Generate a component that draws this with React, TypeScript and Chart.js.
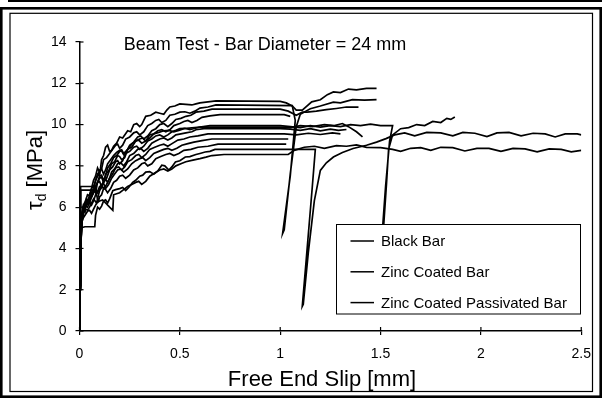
import React, { useEffect, useRef } from 'react';
import { Chart, registerables } from 'chart.js';

Chart.register(...registerables);

type Pt = [number, number];

const chartTitle = 'Beam Test - Bar Diameter = 24 mm';
const xAxisTitle = 'Free End Slip [mm]';
const yAxisSymbol = 'τ';
const yAxisSub = 'd';
const yAxisUnit = ' [MPa]';
const seriesLabels = ['Black Bar', 'Zinc Coated Bar', 'Zinc Coated Passivated Bar'];
const xTicks = [0, 0.5, 1, 1.5, 2, 2.5];
const yTicks = [0, 2, 4, 6, 8, 10, 12, 14];

// Black Bar specimens
const blackBar1: Pt[] = [
  [0, 0], [0.003, 2.1], [0.006, 4.2], [0.012, 5.6], [0.02, 6.1], [0.03, 6.0], [0.04, 6.3], [0.05, 6.5],
  [0.06, 6.9], [0.075, 7.1], [0.09, 7.6], [0.1, 7.5], [0.11, 8.3], [0.12, 8.5], [0.13, 8.9], [0.14, 9.0],
  [0.15, 8.7], [0.16, 8.75], [0.17, 8.95], [0.185, 9.1], [0.2, 9.4], [0.215, 9.35], [0.24, 9.7],
  [0.255, 9.65], [0.27, 10.0], [0.285, 10.05], [0.3, 9.9], [0.31, 10.0], [0.33, 10.4], [0.355, 10.45],
  [0.38, 10.6], [0.4, 10.55], [0.42, 10.5], [0.435, 10.7], [0.45, 10.85], [0.475, 10.9], [0.5, 11.0],
  [0.53, 10.98], [0.56, 10.95], [0.58, 11.0], [0.6, 11.05], [0.64, 11.1], [0.68, 11.15], [1.0, 11.12],
  [1.03, 11.05], [1.06, 10.9], [1.08, 10.7], [1.11, 10.7], [1.157, 11.1], [1.2, 11.2], [1.235, 11.45],
  [1.265, 11.58], [1.3, 11.55], [1.34, 11.72], [1.38, 11.68], [1.43, 11.75], [1.48, 11.75],
];
const blackBar2: Pt[] = [
  [0, 0], [0.002, 1.5], [0.005, 3.5], [0.01, 5.1], [0.02, 5.9], [0.028, 5.8], [0.035, 6.4], [0.05, 6.3],
  [0.06, 6.5], [0.07, 6.8], [0.08, 6.7], [0.09, 7.2], [0.1, 7.25], [0.11, 7.0], [0.12, 7.2], [0.13, 7.6],
  [0.145, 7.75], [0.16, 8.1], [0.175, 8.2], [0.19, 8.5], [0.2, 8.45], [0.21, 8.3], [0.225, 8.4],
  [0.24, 8.8], [0.26, 8.9], [0.28, 9.2], [0.295, 9.25], [0.31, 9.1], [0.33, 9.2], [0.35, 9.5],
  [0.37, 9.55], [0.39, 9.7], [0.41, 9.75], [0.43, 9.65], [0.45, 9.75], [0.47, 9.95], [0.5, 10.05],
  [0.52, 10.15], [0.54, 10.2], [0.56, 10.1], [0.585, 10.2], [0.61, 10.35], [0.65, 10.42], [0.7, 10.48],
  [1.02, 10.48], [1.05, 10.4],
];
const blackBar3: Pt[] = [
  [0, 0], [0.003, 2.2], [0.006, 4.4], [0.01, 5.2], [0.015, 5.6], [0.03, 5.9], [0.04, 5.85], [0.05, 6.0],
  [0.06, 6.2], [0.07, 6.4], [0.085, 6.2], [0.09, 6.4], [0.1, 6.8], [0.11, 6.95], [0.12, 7.3], [0.13, 7.35],
  [0.14, 7.2], [0.15, 7.4], [0.16, 7.7], [0.175, 7.85], [0.19, 8.1], [0.205, 8.15], [0.22, 8.0],
  [0.235, 8.2], [0.25, 8.5], [0.27, 8.6], [0.29, 8.8], [0.305, 8.85], [0.32, 8.7], [0.34, 8.85],
  [0.36, 9.1], [0.38, 9.2], [0.4, 9.3], [0.42, 9.35], [0.44, 9.25], [0.46, 9.35], [0.48, 9.5],
  [0.505, 9.55], [0.53, 9.6], [0.56, 9.65], [0.58, 9.75], [0.62, 9.8], [1.0, 9.8], [1.05, 9.78],
  [1.1, 9.72], [1.15, 9.8], [1.2, 9.7], [1.25, 9.78], [1.29, 9.72], [1.33, 9.76],
];
const blackBar4: Pt[] = [
  [0, 0], [0.002, 2.0], [0.004, 4.6], [0.006, 6.82], [0.08, 6.82], [0.09, 6.4], [0.095, 6.3], [0.1, 6.5],
  [0.11, 6.6], [0.12, 6.9], [0.13, 6.85], [0.14, 6.7], [0.155, 6.9], [0.17, 7.2], [0.185, 7.3],
  [0.2, 7.5], [0.215, 7.55], [0.23, 7.4], [0.25, 7.55], [0.27, 7.8], [0.29, 7.9], [0.31, 8.1],
  [0.325, 8.15], [0.34, 8.0], [0.36, 8.1], [0.38, 8.35], [0.405, 8.45], [0.43, 8.55], [0.45, 8.6],
  [0.47, 8.5], [0.495, 8.6], [0.52, 8.75], [0.555, 8.8], [0.59, 8.9], [0.64, 8.95], [0.69, 9.05],
  [1.03, 9.05],
];

// Zinc Coated Bar specimens
const zincBar1: Pt[] = [
  [0, 0], [0.002, 1.8], [0.005, 3.9], [0.01, 5.4], [0.018, 6.0], [0.03, 6.2], [0.04, 6.15], [0.05, 6.6],
  [0.06, 6.9], [0.07, 7.3], [0.08, 7.5], [0.09, 7.9], [0.1, 7.7], [0.11, 7.85], [0.12, 8.3], [0.135, 8.4],
  [0.15, 8.6], [0.165, 8.8], [0.18, 9.0], [0.19, 9.05], [0.2, 8.85], [0.215, 9.0], [0.23, 9.3],
  [0.25, 9.4], [0.27, 9.6], [0.285, 9.65], [0.3, 9.5], [0.32, 9.65], [0.34, 9.95], [0.36, 10.05],
  [0.38, 10.2], [0.395, 10.25], [0.41, 10.1], [0.43, 10.2], [0.45, 10.45], [0.475, 10.5], [0.5, 10.6],
  [0.525, 10.62], [0.55, 10.55], [0.575, 10.65], [0.6, 10.8], [0.64, 10.85], [0.68, 10.95],
  [1.06, 10.92], [1.075, 10.2], [1.05, 7.5], [1.012, 4.72], [1.02, 4.9], [1.05, 7.6], [1.08, 9.9],
  [1.1, 10.5], [1.15, 10.77], [1.2, 10.9], [1.265, 11.09], [1.3, 11.05], [1.36, 11.21], [1.42, 11.18],
  [1.48, 11.21],
];
const zincBar2: Pt[] = [
  [0, 0], [0.003, 2.0], [0.007, 4.3], [0.012, 5.5], [0.02, 6.1], [0.03, 6.3], [0.04, 6.6], [0.05, 6.55],
  [0.06, 6.5], [0.07, 6.7], [0.08, 7.0], [0.09, 7.2], [0.1, 7.4], [0.11, 7.45], [0.12, 7.2], [0.135, 7.4],
  [0.15, 7.8], [0.165, 7.95], [0.18, 8.2], [0.19, 8.25], [0.2, 8.1], [0.215, 8.25], [0.23, 8.6],
  [0.25, 8.7], [0.27, 8.9], [0.285, 8.95], [0.3, 8.8], [0.32, 8.95], [0.34, 9.2], [0.36, 9.3],
  [0.38, 9.45], [0.4, 9.5], [0.42, 9.4], [0.44, 9.5], [0.46, 9.65], [0.48, 9.72], [0.5, 9.8],
  [0.525, 9.82], [0.55, 9.75], [0.6, 9.88], [0.65, 9.95], [1.0, 9.95], [1.05, 9.9], [1.1, 9.85],
  [1.15, 9.95], [1.2, 9.88], [1.25, 9.95], [1.3, 9.9], [1.35, 10.0], [1.4, 9.95], [1.45, 10.02],
  [1.5, 9.95], [1.56, 9.95], [1.545, 9.2], [1.525, 7.0], [1.505, 4.3], [1.51, 4.3], [1.53, 7.2],
  [1.54, 8.8], [1.56, 9.5], [1.6, 9.8], [1.64, 9.85], [1.68, 10.0], [1.72, 9.95], [1.76, 10.15],
  [1.8, 10.1], [1.83, 10.3], [1.85, 10.25], [1.87, 10.37],
];
const zincBar3: Pt[] = [
  [0, 0], [0.002, 1.4], [0.005, 3.2], [0.009, 4.8], [0.015, 5.5], [0.025, 5.9], [0.04, 6.2], [0.05, 6.25],
  [0.06, 6.1], [0.07, 6.3], [0.08, 6.6], [0.09, 6.75], [0.1, 7.0], [0.11, 7.05], [0.12, 6.9], [0.135, 7.1],
  [0.15, 7.4], [0.165, 7.6], [0.18, 7.9], [0.195, 7.95], [0.21, 7.8], [0.225, 7.95], [0.24, 8.2],
  [0.26, 8.3], [0.28, 8.5], [0.295, 8.55], [0.31, 8.4], [0.33, 8.55], [0.35, 8.8], [0.375, 8.9],
  [0.4, 9.0], [0.42, 9.05], [0.44, 8.95], [0.465, 9.1], [0.49, 9.25], [0.52, 9.3], [0.55, 9.4],
  [0.59, 9.45], [0.64, 9.55], [1.02, 9.55], [1.08, 9.5], [1.14, 9.58], [1.2, 9.52], [1.26, 9.6],
  [1.3, 9.55],
];
const zincBar4: Pt[] = [
  [0, 0], [0.002, 1.6], [0.005, 3.6], [0.01, 5.0], [0.027, 5.05], [0.076, 5.05], [0.08, 5.6], [0.09, 6.0],
  [0.1, 5.9], [0.11, 6.05], [0.12, 6.3], [0.13, 6.35], [0.14, 6.2], [0.15, 6.4], [0.166, 6.8],
  [0.18, 6.85], [0.2, 6.9], [0.215, 6.95], [0.23, 6.8], [0.245, 6.95], [0.265, 7.2], [0.28, 7.3],
  [0.3, 7.5], [0.315, 7.55], [0.33, 7.7], [0.35, 7.72], [0.37, 7.6], [0.39, 7.75], [0.41, 8.03],
  [0.425, 8.0], [0.445, 7.8], [0.46, 7.95], [0.478, 8.19], [0.5, 8.25], [0.527, 8.43], [0.55, 8.45],
  [0.58, 8.55], [0.6, 8.6], [0.626, 8.67], [0.65, 8.7], [0.675, 8.8], [1.175, 8.8], [1.16, 7.0],
  [1.13, 3.5], [1.11, 1.2], [1.115, 1.3], [1.14, 3.8], [1.17, 6.3], [1.2, 7.78], [1.23, 8.15],
  [1.265, 8.43], [1.31, 8.65], [1.363, 8.84], [1.43, 9.0], [1.48, 9.15], [1.527, 9.32], [1.57, 9.5],
  [1.62, 9.6], [1.67, 9.45], [1.73, 9.62], [1.8, 9.6], [1.86, 9.45], [1.91, 9.62], [1.97, 9.58],
  [2.03, 9.42], [2.08, 9.6], [2.14, 9.62], [2.2, 9.45], [2.26, 9.58], [2.32, 9.55], [2.37, 9.4],
  [2.42, 9.55], [2.48, 9.55], [2.5, 9.5],
];

// Zinc Coated Passivated Bar specimens
const passBar1: Pt[] = [
  [0, 0], [0.003, 2.4], [0.006, 4.6], [0.012, 5.7], [0.025, 6.1], [0.04, 6.0], [0.05, 6.2], [0.06, 6.5],
  [0.07, 6.7], [0.08, 7.0], [0.09, 7.2], [0.1, 7.5], [0.11, 7.55], [0.12, 7.3], [0.13, 7.5], [0.14, 7.9],
  [0.155, 8.1], [0.17, 8.4], [0.185, 8.5], [0.2, 8.7], [0.21, 8.72], [0.22, 8.55], [0.235, 8.7],
  [0.25, 9.0], [0.27, 9.15], [0.29, 9.4], [0.305, 9.45], [0.32, 9.3], [0.34, 9.45], [0.36, 9.7],
  [0.38, 9.8], [0.4, 10.0], [0.42, 10.05], [0.44, 9.9], [0.46, 10.05], [0.48, 10.25], [0.505, 10.3],
  [0.53, 10.4], [0.555, 10.45], [0.58, 10.6], [0.62, 10.65], [0.66, 10.75], [1.0, 10.75],
  [1.04, 10.65], [1.08, 10.45], [1.11, 10.6], [1.134, 10.6], [1.18, 10.65], [1.23, 10.72],
  [1.28, 10.78], [1.33, 10.85], [1.39, 10.85],
];
const passBar2: Pt[] = [
  [0, 0], [0.002, 1.7], [0.005, 3.7], [0.011, 5.3], [0.02, 5.8], [0.03, 6.2], [0.045, 6.1], [0.05, 6.35],
  [0.06, 6.7], [0.07, 6.9], [0.08, 7.3], [0.09, 7.5], [0.1, 7.8], [0.11, 7.85], [0.12, 7.6], [0.13, 7.8],
  [0.14, 8.1], [0.155, 8.3], [0.17, 8.5], [0.185, 8.65], [0.2, 8.75], [0.21, 8.78], [0.22, 8.6],
  [0.24, 8.8], [0.26, 9.05], [0.28, 9.2], [0.3, 9.3], [0.315, 9.35], [0.33, 9.2], [0.35, 9.35],
  [0.37, 9.55], [0.395, 9.62], [0.42, 9.7], [0.445, 9.72], [0.47, 9.65], [0.495, 9.72], [0.52, 9.8],
  [0.56, 9.84], [0.6, 9.88], [1.0, 9.88], [1.05, 9.85], [1.1, 9.95], [1.16, 9.9], [1.22, 10.0],
  [1.27, 9.95], [1.31, 10.05], [1.34, 9.9], [1.38, 9.65], [1.41, 9.4],
];
const passBar3: Pt[] = [
  [0, 0], [0.003, 2.6], [0.005, 5.0], [0.006, 7.0], [0.076, 7.0], [0.09, 6.7], [0.1, 6.85], [0.11, 7.1],
  [0.12, 7.15], [0.13, 6.9], [0.145, 7.1], [0.16, 7.4], [0.175, 7.6], [0.19, 7.8], [0.205, 7.85],
  [0.22, 7.7], [0.24, 7.85], [0.26, 8.1], [0.28, 8.25], [0.3, 8.35], [0.315, 8.4], [0.33, 8.25],
  [0.35, 8.4], [0.37, 8.6], [0.395, 8.7], [0.42, 8.8], [0.44, 8.85], [0.46, 8.75], [0.485, 8.85],
  [0.51, 9.0], [0.54, 9.08], [0.57, 9.15], [0.61, 9.22], [0.66, 9.3], [1.04, 9.3],
];
const passBar4: Pt[] = [
  [0, 0], [0.003, 2.2], [0.006, 4.0], [0.012, 5.3], [0.02, 5.5], [0.04, 5.8], [0.05, 5.85], [0.06, 5.7],
  [0.07, 5.9], [0.08, 6.1], [0.09, 6.25], [0.1, 6.3], [0.115, 6.35], [0.13, 6.2], [0.15, 6.0],
  [0.166, 5.85], [0.17, 6.6], [0.185, 6.65], [0.2, 6.7], [0.22, 6.85], [0.24, 7.0], [0.26, 7.1],
  [0.28, 7.2], [0.295, 7.25], [0.31, 7.1], [0.33, 7.25], [0.35, 7.5], [0.375, 7.65], [0.4, 7.8],
  [0.42, 7.85], [0.44, 7.75], [0.46, 7.85], [0.48, 8.0], [0.505, 8.1], [0.53, 8.2], [0.565, 8.28],
  [0.6, 8.35], [0.63, 8.42], [0.66, 8.5], [0.72, 8.55], [1.04, 8.55], [1.07, 8.75], [1.12, 8.9],
  [1.17, 8.95], [1.22, 8.85], [1.28, 8.98], [1.33, 8.95], [1.38, 9.02], [1.43, 8.9], [1.5, 8.88],
  [1.56, 8.8], [1.6, 8.7], [1.65, 8.85], [1.7, 8.88], [1.75, 8.75], [1.8, 8.9], [1.86, 8.88], [1.92, 8.72],
  [1.98, 8.85], [2.04, 8.85], [2.1, 8.7], [2.16, 8.85], [2.22, 8.82], [2.28, 8.68], [2.34, 8.82],
  [2.4, 8.8], [2.45, 8.68], [2.5, 8.75],
];

const seriesCurves: Pt[][][] = [
  [blackBar1, blackBar2, blackBar3, blackBar4],
  [zincBar1, zincBar2, zincBar3, zincBar4],
  [passBar1, passBar2, passBar3, passBar4],
];

const FONT = '"Liberation Sans", Arial, Helvetica, sans-serif';

const decorPlugin = {
  id: 'decor',
  afterDatasetsDraw(chart: any) {
    const ctx = chart.ctx as CanvasRenderingContext2D;
    const { left, bottom } = chart.chartArea;
    ctx.save();
    ctx.strokeStyle = '#000';
    ctx.lineWidth = 1.2;
    const xs = chart.scales.x;
    const ys = chart.scales.y;
    xs.ticks.forEach((t: any) => {
      const px = xs.getPixelForValue(t.value);
      ctx.beginPath();
      ctx.moveTo(px, bottom);
      ctx.lineTo(px, bottom - 4);
      ctx.stroke();
    });
    ys.ticks.forEach((t: any) => {
      const py = ys.getPixelForValue(t.value);
      ctx.beginPath();
      ctx.moveTo(left, py);
      ctx.lineTo(left + 4, py);
      ctx.stroke();
    });
    ctx.restore();

    // legend box
    const labels: string[] = [];
    chart.data.datasets.forEach((d: any) => {
      if (!labels.includes(d.label)) labels.push(d.label);
    });
    ctx.save();
    const bx = 336.5, by = 224.5, bw = 244, bh = 89.5;
    ctx.fillStyle = '#fff';
    ctx.fillRect(bx, by, bw, bh);
    ctx.strokeStyle = '#000';
    ctx.lineWidth = 1;
    ctx.strokeRect(bx, by, bw, bh);
    ctx.font = `15px ${FONT}`;
    ctx.fillStyle = '#000';
    ctx.textBaseline = 'middle';
    ctx.textAlign = 'left';
    labels.forEach((lab, i) => {
      const y = 241 + i * 30.8;
      ctx.beginPath();
      ctx.lineWidth = 1.5;
      ctx.moveTo(350.5, y);
      ctx.lineTo(374, y);
      ctx.stroke();
      ctx.fillText(lab, 381, y + 1);
    });
    ctx.restore();
  },
  afterDraw(chart: any) {
    const ctx = chart.ctx as CanvasRenderingContext2D;
    const W = chart.width, H = chart.height;
    ctx.save();
    ctx.fillStyle = '#000';
    ctx.textBaseline = 'alphabetic';
    ctx.textAlign = 'center';
    ctx.font = `18px ${FONT}`;
    ctx.fillText(chartTitle, 265, 50);
    ctx.font = `22px ${FONT}`;
    ctx.fillText(xAxisTitle, 322, 386);

    ctx.save();
    ctx.translate(42, 170);
    ctx.rotate(-Math.PI / 2);
    ctx.font = `22px ${FONT}`;
    const w1 = ctx.measureText(yAxisSymbol).width;
    const w3 = ctx.measureText(yAxisUnit).width;
    ctx.font = `14px ${FONT}`;
    const w2 = ctx.measureText(yAxisSub).width;
    const total = w1 + w2 + w3;
    let x0 = -total / 2;
    ctx.textAlign = 'left';
    ctx.font = `22px ${FONT}`;
    ctx.fillText(yAxisSymbol, x0, 0);
    x0 += w1;
    ctx.font = `14px ${FONT}`;
    ctx.fillText(yAxisSub, x0, 4);
    x0 += w2;
    ctx.font = `22px ${FONT}`;
    ctx.fillText(yAxisUnit, x0, 0);
    ctx.restore();

    const ix0 = 10, iy0 = 13.3, ix1 = 592.5, iy1 = 391.5;
    ctx.beginPath();
    ctx.rect(0, 0, W, H);
    ctx.rect(ix0, iy0, ix1 - ix0, iy1 - iy0);
    ctx.fillStyle = '#fff';
    ctx.fill('evenodd');
    ctx.fillStyle = '#000';
    ctx.fillRect(8, 0, W - 8, 2);
    ctx.strokeStyle = '#000';
    ctx.lineWidth = 2.6;
    ctx.strokeRect(1.3, 8.3, W - 2.6, H - 8.3 - 1.3);
    ctx.lineWidth = 1.2;
    ctx.strokeRect(ix0, iy0, ix1 - ix0, iy1 - iy0);
    ctx.restore();
  },
};

export default function App() {
  const ref = useRef<HTMLCanvasElement | null>(null);
  useEffect(() => {
    document.body.style.margin = '0';
    const canvas = ref.current;
    if (!canvas) return;
    const datasets: any[] = [];
    seriesCurves.forEach((curves, si) => {
      curves.forEach((pts) => {
        datasets.push({
          label: seriesLabels[si],
          data: pts.map(([x, y]) => ({ x, y })),
          borderColor: '#000',
          backgroundColor: '#000',
          borderWidth: 1.7,
          pointRadius: 0,
          pointHoverRadius: 0,
          showLine: true,
          fill: false,
          tension: 0,
        });
      });
    });
    const tickFont = { family: FONT, size: 14 };
    const chart = new Chart(canvas, {
      type: 'scatter',
      data: { datasets },
      plugins: [decorPlugin],
      options: {
        animation: false,
        responsive: false,
        devicePixelRatio: 1,
        events: [],
        layout: { padding: { top: 42, right: 14, left: 0, bottom: 0 } },
        plugins: { legend: { display: false }, title: { display: false }, tooltip: { enabled: false } },
        scales: {
          x: {
            type: 'linear',
            min: 0,
            max: 2.5,
            afterBuildTicks: (s: any) => { s.ticks = xTicks.map((v) => ({ value: v })); },
            afterFit: (s: any) => { s.height = 67; },
            ticks: { color: '#000', font: tickFont, padding: 11, maxRotation: 0, callback: (v: any) => String(v) },
            grid: { drawOnChartArea: false, drawTicks: true, tickLength: 4, color: '#000', lineWidth: 1.2 },
            border: { color: '#000', width: 1.5 },
          },
          y: {
            type: 'linear',
            min: 0,
            max: 14,
            afterBuildTicks: (s: any) => { s.ticks = yTicks.map((v) => ({ value: v })); },
            afterFit: (s: any) => { s.width = 79.5; },
            ticks: { color: '#000', font: tickFont, padding: 9, callback: (v: any) => String(v) },
            grid: { drawOnChartArea: false, drawTicks: true, tickLength: 4, color: '#000', lineWidth: 1.2 },
            border: { color: '#000', width: 1.5 },
          },
        },
      } as any,
    });
    return () => chart.destroy();
  }, []);
  return (
    <div style={{ width: 602, height: 398 }}>
      <canvas ref={ref} width={602} height={398} style={{ width: 602, height: 398, display: 'block' }} />
    </div>
  );
}
